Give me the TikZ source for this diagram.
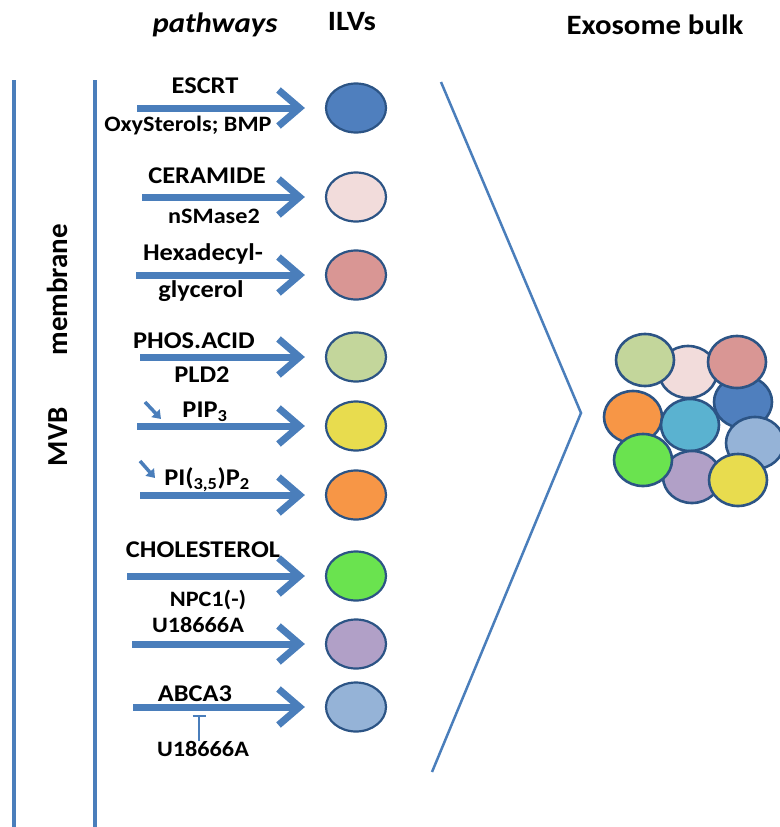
\documentclass[tikz,border=0pt]{standalone}
\usepackage{fontspec}
\setmainfont{Carlito}[FakeStretch=1.1]
\newfontfamily\plainfont{Carlito}
\usetikzlibrary{arrows.meta,shapes.geometric}
\definecolor{ablue}{HTML}{4A7EBB}
\definecolor{edgec}{HTML}{2C5485}
\definecolor{cESCRT}{HTML}{4F7FBE}
\definecolor{cPink}{HTML}{F2DCDB}
\definecolor{cRose}{HTML}{D99694}
\definecolor{cLgreen}{HTML}{C3D69B}
\definecolor{cYellow}{HTML}{E8DC4E}
\definecolor{cOrange}{HTML}{F79646}
\definecolor{cGreen}{HTML}{6AE34F}
\definecolor{cPurple}{HTML}{B1A0C7}
\definecolor{cLblue}{HTML}{95B3D7}
\definecolor{cTeal}{HTML}{5AB2D0}
\tikzset{
  lab/.style={font=\bfseries\fontsize{24}{26}\selectfont, inner sep=0pt, text=black},
  slab/.style={font=\bfseries\fontsize{22}{24}\selectfont, inner sep=0pt, text=black},
  head/.style={font=\bfseries\fontsize{28}{30}\selectfont, inner sep=0pt},
  ilv/.style={ellipse, minimum width=60pt, minimum height=49pt, draw=edgec, line width=2.2pt, inner sep=0pt},
  bulk/.style={ellipse, minimum width=58pt, minimum height=52pt, draw=edgec, line width=2.6pt, inner sep=0pt},
  flow/.style={ablue, line width=7pt, -{Straight Barb[length=21pt,width=36pt]}, shorten >=20pt},
  act/.style={ablue, line width=3.5pt, -{Triangle[length=8pt,width=11pt]}},
  inh/.style={ablue, line width=1.5pt, -{Bar[width=13pt,line width=1.5pt]}},
  wall/.style={ablue, line width=4pt},
}
\begin{document}
\begin{tikzpicture}[x=1pt,y=-1pt]
\useasboundingbox (0,0) rectangle (779,827);
% headers
\node[head, font=\bfseries\itshape\fontsize{28}{30}\selectfont] (hpath) at (215,25) {pathways};
\node[head] (hilv) at (352,22) {ILVs};
\node[head] (hexo) at (655,25) {Exosome bulk};
% membrane walls
\coordinate (w1t) at (14,80); \coordinate (w1b) at (14,827);
\coordinate (w2t) at (95,80); \coordinate (w2b) at (95,827);
\draw[wall] (w1t) -- (w1b);
\draw[wall] (w2t) -- (w2b);
\node[rotate=90, font=\plainfont\bfseries\fontsize{29}{31}\selectfont, inner sep=0pt] (mvb) at (57,345) {MVB\hspace{52pt}membrane};
% ILVs
\node[ilv, fill=cESCRT]  (v1) at (356,108) {};
\node[ilv, fill=cPink]   (v2) at (356,197) {};
\node[ilv, fill=cRose]   (v3) at (356,275) {};
\node[ilv, fill=cLgreen] (v4) at (356,357) {};
\node[ilv, fill=cYellow] (v5) at (356,426) {};
\node[ilv, fill=cOrange] (v6) at (356,495) {};
\node[ilv, fill=cGreen]  (v7) at (356,576) {};
\node[ilv, fill=cPurple] (v8) at (356,644) {};
\node[ilv, fill=cLblue]  (v9) at (356,707) {};
% arrow starts
\coordinate (s1) at (137,108);
\coordinate (s2) at (142,197);
\coordinate (s3) at (136,275);
\coordinate (s4) at (140,357);
\coordinate (s5) at (137,426);
\coordinate (s6) at (140,495);
\coordinate (s7) at (127,576);
\coordinate (s8) at (132,644);
\coordinate (s9) at (133,707);
\foreach \i in {1,...,9} { \draw[flow] (s\i) -- (v\i.west); }
% labels
\node[lab]  (t1)  at (205,86)  {ESCRT};
\node[slab] (t1b) at (188,126) {OxySterols; BMP};
\node[lab]  (t2)  at (207,176) {CERAMIDE};
\node[slab] (t2b) at (214,216) {nSMase2};
\node[lab]  (t3)  at (203,254) {Hexadecyl-};
\node[lab]  (t3b) at (201,291) {glycerol};
\node[lab]  (t4)  at (194,341) {PHOS.ACID};
\node[lab]  (t4b) at (202,375) {PLD2};
\node[lab]  (t5)  at (205,412) {PIP\textsubscript{3}};
\node[lab]  (t6)  at (207,480) {PI(\textsubscript{3,5})P\textsubscript{2}};
\node[lab]  (t7)  at (203,550) {CHOLESTEROL};
\node[slab] (t7b) at (208,600) {NPC1(-)};
\node[slab] (t8)  at (198,625) {U18666A};
\node[lab]  (t9)  at (195,694) {ABCA3};
\node[slab] (t9b) at (203,749) {U18666A};
% activation arrows
\coordinate (a5s) at (145,402); \coordinate (a5e) at (161,419);
\coordinate (a6s) at (140,461); \coordinate (a6e) at (155,478);
\draw[act] (a5s) -- (a5e);
\draw[act] (a6s) -- (a6e);
% inhibition
\coordinate (inhT) at (199,715);
\draw[inh] (t9b.north -| inhT) -- (inhT);
% funnel
\coordinate (f1) at (441,82); \coordinate (f2) at (581,413); \coordinate (f3) at (432,772);
\draw[ablue, line width=2.5pt] (f1) -- (f2) -- (f3);
% exosome bulk
\node[bulk, fill=cPink]   (b2)  at (688,372) {};
\node[bulk, fill=cESCRT]  (b1)  at (743,402) {};
\node[bulk, fill=cRose]   (b3)  at (737,362) {};
\node[bulk, fill=cLgreen] (b4)  at (645,360) {};
\node[bulk, fill=cOrange] (b6)  at (633,417) {};
\node[bulk, fill=cTeal]   (b10) at (690,425) {};
\node[bulk, fill=cLblue]  (b9)  at (755,443) {};
\node[bulk, fill=cPurple] (b8)  at (692,477) {};
\node[bulk, fill=cGreen]  (b7)  at (643,460) {};
\node[bulk, fill=cYellow] (b5)  at (738,480) {};
\end{tikzpicture}
\end{document}
